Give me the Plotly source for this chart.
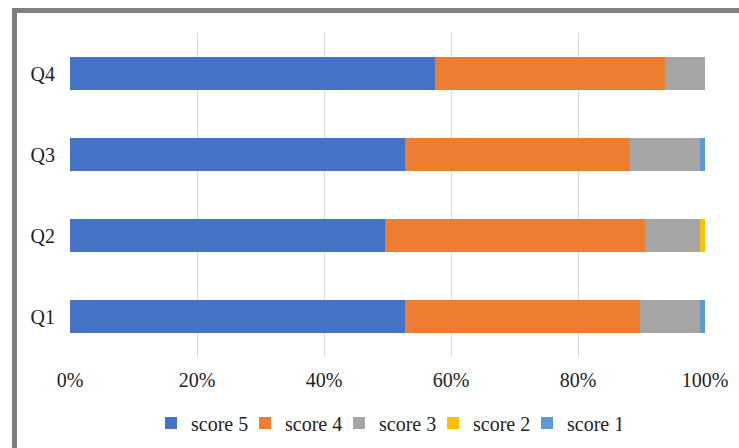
import plotly.graph_objects as go

categories = ["Q1", "Q2", "Q3", "Q4"]
series_names = ["score 5", "score 4", "score 3", "score 2", "score 1"]
score5 = [67, 63, 67, 73]
score4 = [47, 52, 45, 46]
score3 = [12, 11, 14, 8]
score2 = [0, 1, 0, 0]
score1 = [1, 0, 1, 0]
colors = ["#4472C4", "#ED7D31", "#A5A5A5", "#FFC000", "#5B9BD5"]
tick_vals = [0, 20, 40, 60, 80, 100]
tick_text = ["0%", "20%", "40%", "60%", "80%", "100%"]

fig = go.Figure()
for name, vals, col in zip(series_names, [score5, score4, score3, score2, score1], colors):
    fig.add_trace(go.Bar(
        y=categories, x=vals, name=name, orientation="h",
        marker=dict(color=col, line=dict(width=0)),
    ))

font_family = "'Times New Roman', 'Liberation Serif', 'DejaVu Serif', serif"
fig.update_layout(
    width=739, height=448,
    barmode="stack", barnorm="percent", bargap=0.6,
    margin=dict(l=70, r=34, t=33, b=91, autoexpand=False),
    paper_bgcolor="white", plot_bgcolor="white",
    font=dict(family=font_family, size=20, color="#222222"),
    showlegend=True,
    legend=dict(orientation="h", x=0.1276, xanchor="left", y=-0.2037, yanchor="middle",
                traceorder="normal", font=dict(family=font_family, size=20, color="#222222"),
                itemwidth=30, entrywidth=49, entrywidthmode="pixels",
                bgcolor="rgba(0,0,0,0)"),
    xaxis=dict(range=[0, 100], tickvals=tick_vals, ticktext=tick_text,
               showgrid=True, gridcolor="#D9D9D9", gridwidth=1,
               zeroline=False, showline=False, ticks="", ticklabelstandoff=9,
               tickfont=dict(family=font_family, size=20)),
    yaxis=dict(showgrid=False, zeroline=False, showline=False, ticks="",
               ticklabelstandoff=14, tickfont=dict(family=font_family, size=20)),
    shapes=[dict(type="rect", xref="paper", yref="paper",
                 x0=-0.0874, x1=1.063, y0=-0.302, y1=1.0694,
                 line=dict(color="#7F7F7F", width=5), fillcolor="rgba(0,0,0,0)",
                 layer="below")],
)

fig.write_html("out.html")
